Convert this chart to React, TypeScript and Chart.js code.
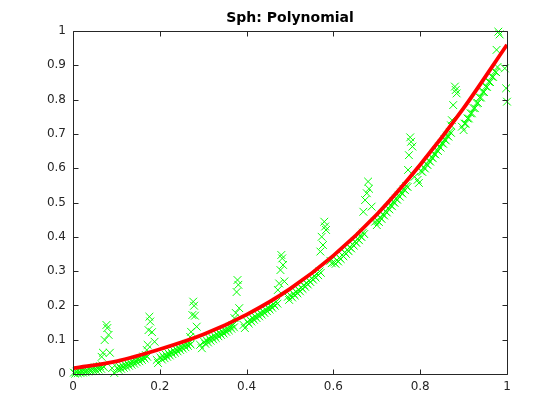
import { useEffect, useRef } from 'react'
import Chart from 'chart.js/auto'

// sampled points (green crosses), one line per tenth of the x range
const sampleX = [
  0.002, 0.008, 0.014, 0.02, 0.026, 0.032, 0.038, 0.044, 0.05, 0.056, 0.062, 0.068, 0.066, 0.069, 0.073, 0.077, 0.079, 0.082, 0.085, 0.09, 0.095,
  0.102, 0.108, 0.114, 0.12, 0.126, 0.132, 0.138, 0.144, 0.15, 0.156, 0.162, 0.168, 0.17, 0.172, 0.174, 0.176, 0.178, 0.182, 0.188, 0.193, 0.196,
  0.202, 0.208, 0.214, 0.22, 0.226, 0.232, 0.238, 0.244, 0.25, 0.256, 0.262, 0.268, 0.27, 0.272, 0.275, 0.277, 0.279, 0.281, 0.285, 0.293, 0.297,
  0.302, 0.308, 0.314, 0.32, 0.326, 0.332, 0.338, 0.344, 0.35, 0.356, 0.362, 0.368, 0.372, 0.375, 0.377, 0.379, 0.381, 0.383, 0.393, 0.396,
  0.402, 0.408, 0.414, 0.42, 0.426, 0.432, 0.438, 0.444, 0.45, 0.456, 0.462, 0.468, 0.472, 0.475, 0.478, 0.48, 0.482, 0.484, 0.487, 0.495, 0.498,
  0.502, 0.508, 0.514, 0.52, 0.526, 0.532, 0.538, 0.544, 0.55, 0.556, 0.562, 0.568, 0.57, 0.573, 0.576, 0.579, 0.581, 0.583, 0.593, 0.596,
  0.602, 0.608, 0.614, 0.62, 0.626, 0.632, 0.638, 0.644, 0.65, 0.656, 0.662, 0.668, 0.669, 0.673, 0.677, 0.68, 0.682, 0.688, 0.696, 0.7,
  0.702, 0.708, 0.714, 0.72, 0.726, 0.732, 0.738, 0.744, 0.75, 0.756, 0.762, 0.768, 0.772, 0.774, 0.777, 0.779, 0.782, 0.787, 0.794, 0.797,
  0.802, 0.808, 0.814, 0.82, 0.826, 0.832, 0.838, 0.844, 0.85, 0.856, 0.862, 0.868, 0.871, 0.873, 0.876, 0.88, 0.882, 0.884, 0.896, 0.9,
  0.902, 0.909, 0.916, 0.923, 0.93, 0.937, 0.944, 0.951, 0.958, 0.965, 0.972, 0.978, 0.976, 0.98, 0.983, 0.995, 0.998, 1.0,
]
const sampleY = [
  0.004, 0.007, 0.007, 0.01, 0.012, 0.012, 0.015, 0.016, 0.019, 0.02, 0.023, 0.025, 0.05, 0.062, 0.099, 0.143, 0.134, 0.114, 0.062, 0.017, 0.003,
  0.018, 0.021, 0.024, 0.027, 0.03, 0.033, 0.037, 0.04, 0.044, 0.047, 0.051, 0.055, 0.07, 0.085, 0.128, 0.167, 0.153, 0.122, 0.094, 0.041, 0.032,
  0.048, 0.052, 0.056, 0.06, 0.064, 0.068, 0.072, 0.076, 0.079, 0.084, 0.088, 0.091, 0.108, 0.123, 0.172, 0.211, 0.199, 0.17, 0.138, 0.085, 0.075,
  0.094, 0.098, 0.103, 0.107, 0.111, 0.116, 0.12, 0.124, 0.129, 0.133, 0.138, 0.142, 0.163, 0.178, 0.239, 0.274, 0.26, 0.192, 0.143, 0.134,
  0.152, 0.158, 0.163, 0.168, 0.173, 0.178, 0.183, 0.188, 0.193, 0.198, 0.204, 0.21, 0.245, 0.264, 0.303, 0.347, 0.337, 0.318, 0.27, 0.225, 0.216,
  0.228, 0.234, 0.24, 0.246, 0.252, 0.259, 0.265, 0.272, 0.279, 0.286, 0.292, 0.299, 0.357, 0.4, 0.376, 0.444, 0.43, 0.42, 0.33, 0.323,
  0.325, 0.332, 0.339, 0.347, 0.355, 0.362, 0.369, 0.378, 0.386, 0.394, 0.402, 0.412, 0.473, 0.507, 0.527, 0.561, 0.54, 0.488, 0.444, 0.434,
  0.446, 0.456, 0.465, 0.474, 0.483, 0.492, 0.502, 0.511, 0.52, 0.529, 0.539, 0.548, 0.595, 0.638, 0.69, 0.677, 0.663, 0.575, 0.566, 0.557,
  0.591, 0.602, 0.612, 0.622, 0.632, 0.642, 0.653, 0.663, 0.673, 0.684, 0.695, 0.706, 0.725, 0.74, 0.784, 0.838, 0.828, 0.818, 0.721, 0.711,
  0.73, 0.745, 0.76, 0.775, 0.79, 0.806, 0.822, 0.838, 0.852, 0.867, 0.882, 0.895, 0.945, 0.998, 0.99, 0.891, 0.833, 0.794,
]

// lower edge of the dense band of samples under the fit
const lowerBandX = [
  0.005, 0.011, 0.017, 0.023, 0.029, 0.035, 0.041, 0.047, 0.053, 0.059, 0.065, 0.071,
  0.105, 0.111, 0.117, 0.123, 0.129, 0.135, 0.141, 0.147, 0.153, 0.159, 0.165, 0.171,
  0.205, 0.211, 0.217, 0.223, 0.229, 0.235, 0.241, 0.247, 0.253, 0.259, 0.265, 0.271,
  0.305, 0.311, 0.317, 0.323, 0.329, 0.335, 0.341, 0.347, 0.353, 0.359, 0.365, 0.371,
  0.405, 0.411, 0.417, 0.423, 0.429, 0.435, 0.441, 0.447, 0.453, 0.459, 0.465, 0.471,
  0.505, 0.511, 0.517, 0.523, 0.529, 0.535, 0.541, 0.547, 0.553, 0.559, 0.565, 0.571,
  0.605, 0.611, 0.617, 0.623, 0.629, 0.635, 0.641, 0.647, 0.653, 0.659, 0.665, 0.671,
  0.705, 0.711, 0.717, 0.723, 0.729, 0.735, 0.741, 0.747, 0.753, 0.759, 0.765, 0.771,
  0.805, 0.811, 0.817, 0.823, 0.829, 0.835, 0.841, 0.847, 0.853, 0.859, 0.865, 0.871,
  0.905, 0.912, 0.919, 0.926, 0.933, 0.94, 0.947, 0.954, 0.961, 0.968, 0.975,
]
const lowerBandY = [
  0.001, 0.002, 0.003, 0.004, 0.005, 0.007, 0.008, 0.01, 0.011, 0.013, 0.015, 0.02,
  0.012, 0.015, 0.018, 0.021, 0.024, 0.027, 0.03, 0.034, 0.037, 0.041, 0.045, 0.05,
  0.042, 0.046, 0.05, 0.054, 0.058, 0.062, 0.066, 0.07, 0.074, 0.078, 0.082, 0.086,
  0.088, 0.092, 0.097, 0.101, 0.105, 0.11, 0.114, 0.118, 0.123, 0.127, 0.132, 0.136,
  0.147, 0.153, 0.158, 0.163, 0.168, 0.173, 0.178, 0.183, 0.188, 0.193, 0.199, 0.205,
  0.223, 0.229, 0.235, 0.241, 0.248, 0.254, 0.261, 0.268, 0.275, 0.281, 0.288, 0.295,
  0.321, 0.328, 0.335, 0.343, 0.35, 0.358, 0.366, 0.374, 0.382, 0.39, 0.399, 0.408,
  0.443, 0.452, 0.462, 0.471, 0.48, 0.489, 0.499, 0.508, 0.517, 0.526, 0.536, 0.545,
  0.589, 0.599, 0.609, 0.619, 0.629, 0.64, 0.65, 0.66, 0.671, 0.681, 0.692, 0.703,
  0.73, 0.745, 0.76, 0.775, 0.79, 0.806, 0.822, 0.837, 0.851, 0.866, 0.88,
]

// polynomial fit (red curve)
const fitX = [0, 0.1, 0.2, 0.3, 0.4, 0.5, 0.6, 0.7, 0.8, 0.9, 1]
const fitY = [0.017, 0.037, 0.072, 0.115, 0.173, 0.248, 0.345, 0.465, 0.61, 0.775, 0.96]

const xTicks = [0, 0.2, 0.4, 0.6, 0.8, 1]
const yTicks = [0, 0.1, 0.2, 0.3, 0.4, 0.5, 0.6, 0.7, 0.8, 0.9, 1]

const titleText = 'Sph: Polynomial'
const axisColor = '#262626'

// matlab style box with inward ticks on all four sides, title centred over the axes
const axesBox = {
  id: 'axesBox',
  afterDraw(chart: any) {
    const { ctx, chartArea, scales } = chart
    const { left, right, top, bottom } = chartArea
    const p = (v: number) => Math.round(v) + 0.5
    ctx.save()
    ctx.strokeStyle = axisColor
    ctx.lineWidth = 1
    ctx.beginPath()
    ctx.rect(p(left), p(top), p(right) - p(left), p(bottom) - p(top))
    xTicks.forEach((v) => {
      const px = p(scales.x.getPixelForValue(v))
      ctx.moveTo(px, p(bottom))
      ctx.lineTo(px, p(bottom) - 5)
      ctx.moveTo(px, p(top))
      ctx.lineTo(px, p(top) + 5)
    })
    yTicks.forEach((v) => {
      const py = p(scales.y.getPixelForValue(v))
      ctx.moveTo(p(left), py)
      ctx.lineTo(p(left) + 5, py)
      ctx.moveTo(p(right), py)
      ctx.lineTo(p(right) - 5, py)
    })
    ctx.stroke()

    ctx.fillStyle = '#000000'
    ctx.font = 'bold 14px "DejaVu Sans", sans-serif'
    ctx.textAlign = 'center'
    ctx.textBaseline = 'middle'
    ctx.fillText(titleText, (left + right) / 2, 18.5)
    ctx.restore()
  },
}

const fmt = (v: number | string) => String(Math.round(Number(v) * 10) / 10)

export default function App() {
  const canvasRef = useRef<HTMLCanvasElement | null>(null)

  useEffect(() => {
    if (!canvasRef.current) return
    Chart.defaults.font.family = '"DejaVu Sans", sans-serif'

    const points = sampleX
      .map((x, i) => ({ x, y: sampleY[i] }))
      .concat(lowerBandX.map((x, i) => ({ x, y: lowerBandY[i] })))

    const chart = new Chart(canvasRef.current, {
      type: 'scatter',
      data: {
        datasets: [
          {
            type: 'line',
            label: 'fit',
            data: fitX.map((x, i) => ({ x, y: fitY[i] })),
            borderColor: '#ff0000',
            borderWidth: 3.8,
            pointRadius: 0,
            cubicInterpolationMode: 'monotone',
            fill: false,
            order: 0,
          },
          {
            type: 'scatter',
            label: 'samples',
            data: points,
            pointStyle: 'crossRot',
            pointRadius: 5.5,
            borderColor: '#00ff00',
            backgroundColor: '#00ff00',
            borderWidth: 1,
            clip: false,
            order: 1,
          },
        ],
      } as any,
      options: {
        animation: false,
        responsive: false,
        devicePixelRatio: 1,
        events: [],
        layout: { padding: { left: 0, right: 53, top: 31, bottom: 0 } },
        plugins: {
          legend: { display: false },
          tooltip: { enabled: false },
          title: { display: false },
        },
        scales: {
          x: {
            type: 'linear',
            min: 0,
            max: 1,
            grid: { display: false, drawTicks: false },
            border: { display: false },
            ticks: { padding: 6, color: axisColor, font: { size: 12 }, maxRotation: 0, callback: fmt },
            afterBuildTicks: (s: any) => {
              s.ticks = xTicks.map((value) => ({ value }))
            },
            afterFit: (s: any) => {
              s.height = 46
            },
          },
          y: {
            type: 'linear',
            min: 0,
            max: 1,
            grid: { display: false, drawTicks: false },
            border: { display: false },
            ticks: { padding: 7, color: axisColor, font: { size: 12 }, callback: fmt },
            afterBuildTicks: (s: any) => {
              s.ticks = yTicks.map((value) => ({ value }))
            },
            afterFit: (s: any) => {
              s.width = 73
            },
          },
        },
      },
      plugins: [axesBox],
    })

    return () => {
      chart.destroy()
    }
  }, [])

  return (
    <div style={{ position: 'absolute', left: 0, top: 0, width: 560, height: 420, background: '#fff' }}>
      <canvas ref={canvasRef} width={560} height={420} />
    </div>
  )
}
